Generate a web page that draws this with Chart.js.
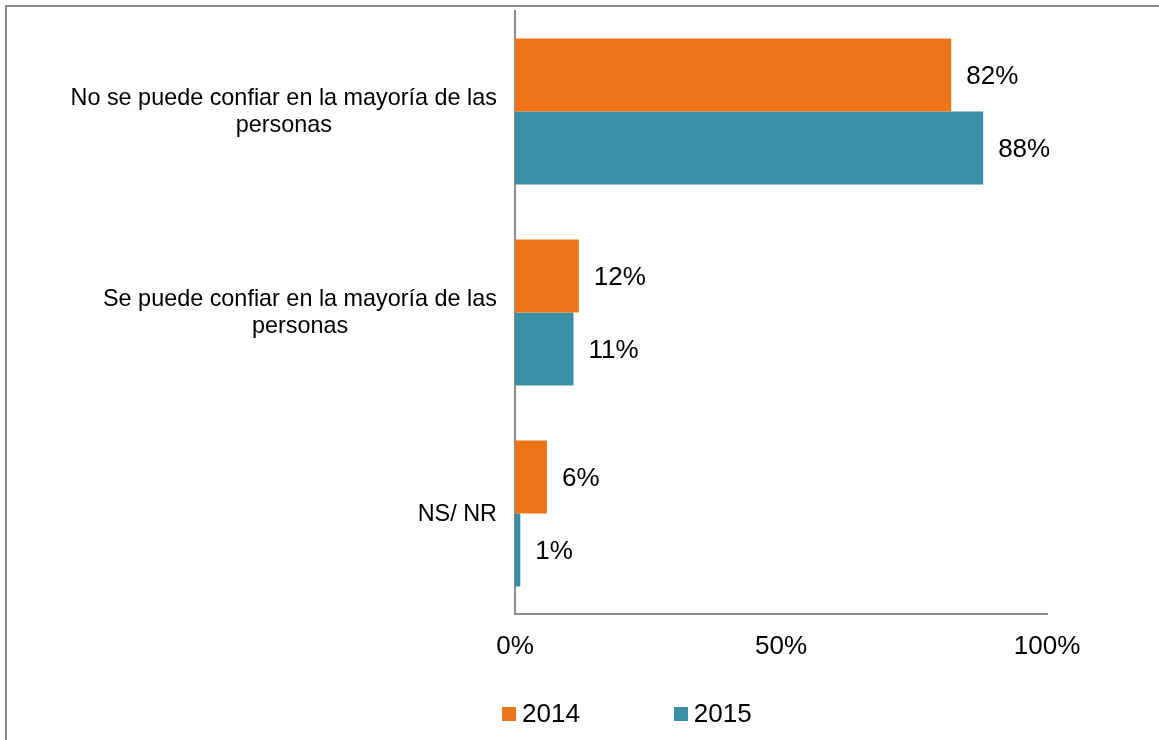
<!DOCTYPE html>
<html>
<head>
<meta charset="utf-8">
<script src="https://cdn.jsdelivr.net/npm/chart.js@4/dist/chart.umd.min.js"></script>
<style>
  html, body { margin: 0; padding: 0; background: #fff; }
  body { width: 1159px; height: 740px; position: relative; overflow: hidden; font-family: "Liberation Sans", Arial, sans-serif; }
  #wrap { position: absolute; left: 0; top: 0; width: 1159px; height: 740px; }
  .frame { position: absolute; left: 5px; top: 5px; right: 0; bottom: -5px; border-top: 2px solid #8a8a8a; border-left: 2px solid #8a8a8a; pointer-events: none; }
  #legend { position: absolute; left: 502px; top: 698px; display: flex; gap: 94px; }
  #legend .item { display: flex; align-items: center; font-size: 26px; color: #000; }
  #legend .sw { width: 14px; height: 14px; margin-right: 6px; }
</style>
</head>
<body>
<div id="wrap"><canvas id="chart" width="1159" height="740"></canvas></div>
<div class="frame"></div>
<div id="legend"></div>
<script>
// Data
const categories = [
  ['No se puede confiar en la mayoría de las', 'personas'],
  ['Se puede confiar en la mayoría de las', 'personas'],
  ['NS/ NR']
];
const seriesNames = ['2014', '2015'];
const values2014 = [82, 12, 6];
const values2015 = [88, 11, 1];
const xTicks = [0, 50, 100];

const colors = ['#ED7418', '#3A8FA4'];
const axisGray = '#8c8c8c';
const font = '"Liberation Sans", Arial, sans-serif';

// value labels next to bars
const barLabels = {
  id: 'barLabels',
  afterDatasetsDraw(chart) {
    const ctx = chart.ctx;
    ctx.save();
    ctx.font = '26px ' + font;
    ctx.fillStyle = '#000';
    ctx.textAlign = 'left';
    ctx.textBaseline = 'middle';
    chart.data.datasets.forEach((ds, i) => {
      chart.getDatasetMeta(i).data.forEach((bar, j) => {
        ctx.fillText(ds.data[j] + '%', bar.x + 15, bar.y + 2);
      });
    });
    ctx.restore();
  }
};

// category labels: block right aligned, lines centred inside block
const catLabels = {
  id: 'catLabels',
  afterDraw(chart) {
    const ctx = chart.ctx;
    const y = chart.scales.y;
    const right = 497, lh = 27;
    ctx.save();
    ctx.font = '23.4px ' + font;
    ctx.fillStyle = '#000';
    ctx.textAlign = 'center';
    ctx.textBaseline = 'middle';
    categories.forEach((lines, i) => {
      const w = Math.max(...lines.map(l => ctx.measureText(l).width));
      const cx = right - w / 2;
      const cy = y.getPixelForTick(i);
      const top = cy - (lines.length - 1) * lh / 2;
      lines.forEach((l, k) => ctx.fillText(l, cx, top + k * lh + 1));
    });
    ctx.restore();
  }
};

new Chart(document.getElementById('chart'), {
  type: 'bar',
  data: {
    labels: categories.map(c => c.join(' ')),
    datasets: [
      { label: seriesNames[0], data: values2014, backgroundColor: colors[0] },
      { label: seriesNames[1], data: values2015, backgroundColor: colors[1] }
    ]
  },
  options: {
    indexAxis: 'y',
    responsive: false,
    animation: false,
    layout: { padding: { top: 11, right: 112, left: 0, bottom: 0 } },
    datasets: { bar: { categoryPercentage: 0.726, barPercentage: 1 } },
    plugins: { legend: { display: false }, tooltip: { enabled: false } },
    scales: {
      x: {
        min: 0, max: 100,
        afterBuildTicks: s => { s.ticks = xTicks.map(v => ({ value: v })); },
        afterFit: s => { s.height = 126; },
        grid: { display: false, drawTicks: false },
        border: { display: true, color: axisGray, width: 2 },
        ticks: { padding: 17, color: '#000', font: { family: font, size: 26 }, callback: v => v + '%' }
      },
      y: {
        afterFit: s => { s.width = 515; },
        grid: { display: false, drawTicks: false },
        border: { display: true, color: axisGray, width: 2 },
        ticks: { display: false }
      }
    }
  },
  plugins: [barLabels, catLabels]
});

// legend
const legend = document.getElementById('legend');
seriesNames.forEach((n, i) => {
  const it = document.createElement('div');
  it.className = 'item';
  it.innerHTML = '<span class="sw" style="background:' + colors[i] + '"></span>' + n;
  legend.appendChild(it);
});
</script>
</body>
</html>
